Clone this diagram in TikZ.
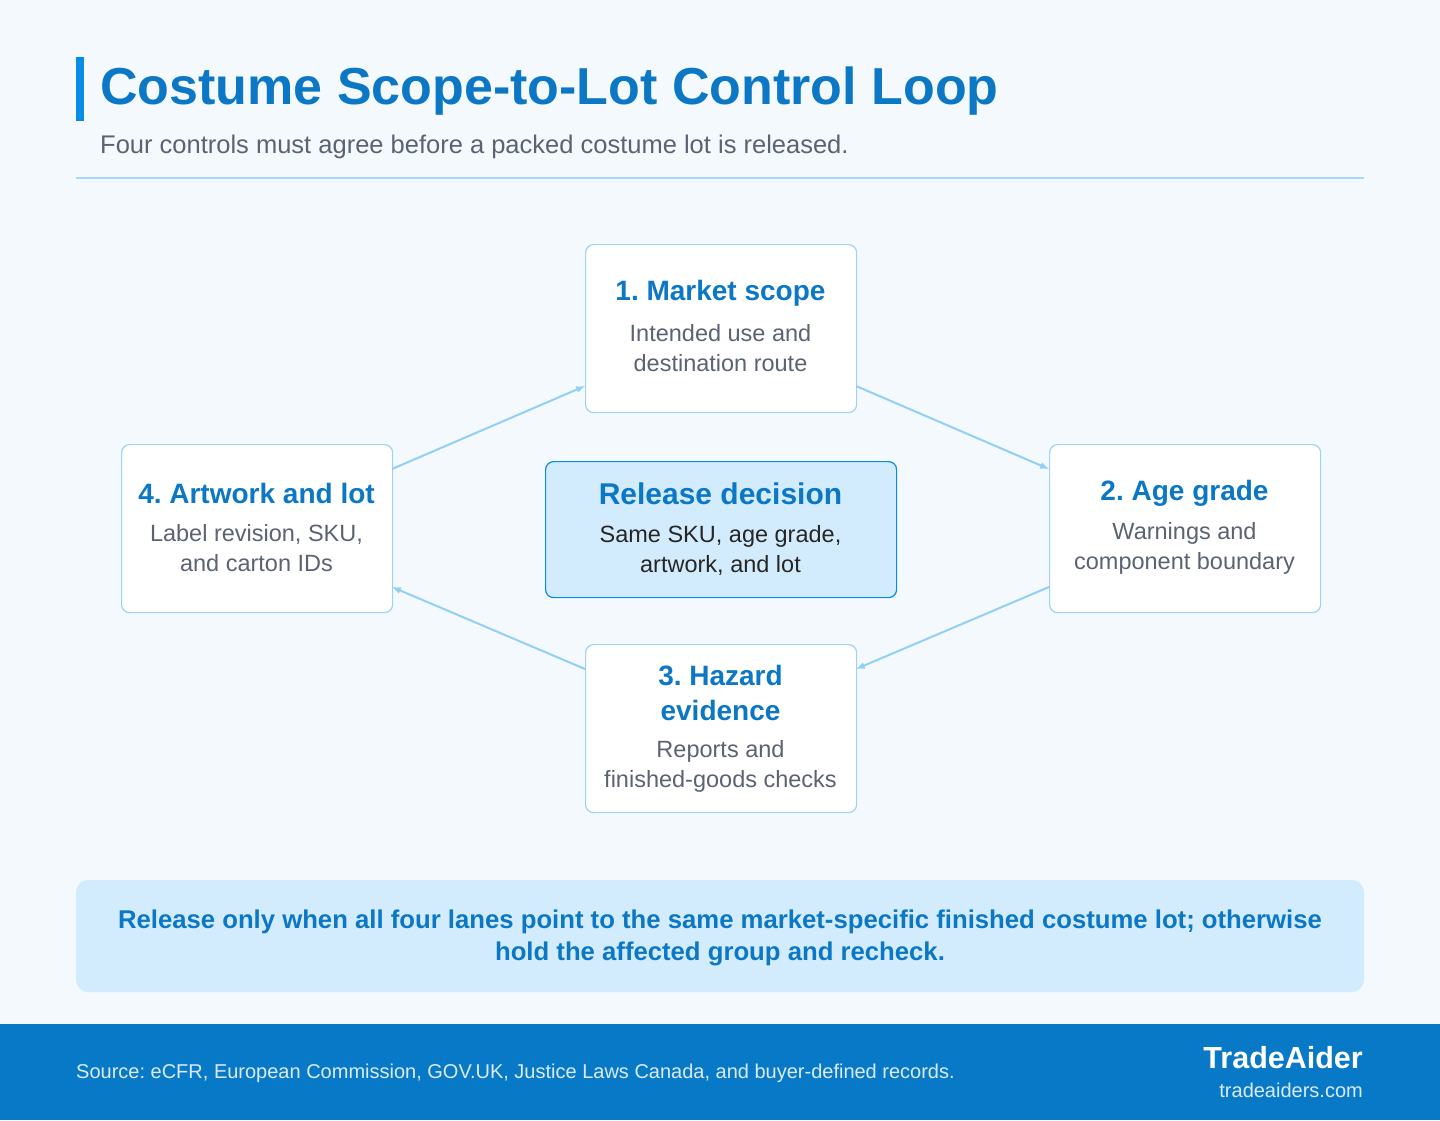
\documentclass[tikz,border=0pt]{standalone}
\usepackage{fontspec}
\setmainfont{Liberation Sans}
\frenchspacing
\usetikzlibrary{positioning}
\definecolor{pagebg}{HTML}{F4F9FE}
\definecolor{titleblue}{HTML}{0B77C5}
\definecolor{accent}{HTML}{0A8CE6}
\definecolor{greytext}{HTML}{5B6372}
\definecolor{rulecol}{HTML}{A8D8F8}
\definecolor{boxline}{HTML}{9ED3F6}
\definecolor{arrowcol}{HTML}{92CFF5}
\definecolor{softfill}{HTML}{D3ECFD}
\definecolor{footblue}{HTML}{0879C7}
\begin{document}
\begin{tikzpicture}[x=1pt,y=-1pt,
  stepbox/.style={draw=boxline,fill=white,rounded corners=8pt,line width=1.2pt,
    minimum width=271pt,minimum height=168pt,anchor=north west},
  steptitle/.style={font=\bfseries\fontsize{28}{35}\selectfont,text=titleblue,align=center},
  stepbody/.style={font=\fontsize{23.5}{30}\selectfont,text=greytext,align=center},
  loop/.style={draw=arrowcol,line width=2pt,-latex}]
\useasboundingbox (0,0) rectangle (1440,1120);
\fill[pagebg] (0,0) rectangle (1440,1120);
% heading
\fill[accent] (76,57) rectangle (84,121);
\node[anchor=base west,inner sep=0,font=\bfseries\fontsize{52}{58}\selectfont,text=titleblue] (title) at (100,104) {Costume Scope-to-Lot Control Loop};
\node[anchor=base west,inner sep=0,font=\fontsize{25.5}{30}\selectfont,text=greytext] (subtitle) at (100,153) {Four controls must agree before a packed costume lot is released.};
\draw[rulecol,line width=1.2pt] (76,178) -- (1364,178);
% steps
\node[stepbox] (scope) at (585,244) {};
\node[stepbox] (age) at (1049,444) {};
\node[stepbox] (hazard) at (585,644) {};
\node[stepbox] (artwork) at (121,444) {};
\node[draw=accent,fill=softfill,rounded corners=8pt,line width=1.2pt,minimum width=351pt,minimum height=136pt,anchor=north west] (release) at (545,461) {};
\node[steptitle] at (720.5,293) {1. Market scope};
\node[stepbody] at (720.5,348) {Intended use and\\destination route};
\node[steptitle] at (1184.5,493) {2. Age grade};
\node[stepbody] at (1184.5,548) {Warnings and\\component boundary};
\node[steptitle] at (720.5,693) {3. Hazard\\evidence};
\node[stepbody] at (720.5,766) {Reports and\\finished-goods checks};
\node[steptitle] at (256.5,493) {4. Artwork and lot};
\node[stepbody] at (256.5,548) {Label revision, SKU,\\and carton IDs};
\node[steptitle,font=\bfseries\fontsize{30}{36}\selectfont] at (720.5,494) {Release decision};
\node[stepbody,text=black!85] at (720.5,550) {Same SKU, age grade,\\artwork, and lot};
% loop arrows
\coordinate (a1) at (392,469); \coordinate (b1) at (585,386);
\coordinate (a2) at (856,386); \coordinate (b2) at (1049,469);
\coordinate (a3) at (1049,587); \coordinate (b3) at (856,669);
\coordinate (a4) at (585,669); \coordinate (b4) at (392,587);
\draw[loop] (a1) -- (b1);
\draw[loop] (a2) -- (b2);
\draw[loop] (a3) -- (b3);
\draw[loop] (a4) -- (b4);
% note
\fill[softfill,rounded corners=12pt] (76,880) rectangle (1364,992);
\node[font=\bfseries\fontsize{25.7}{32}\selectfont,text=titleblue,align=center] (note) at (720,938) {Release only when all four lanes point to the same market-specific finished costume lot; otherwise\\hold the affected group and recheck.};
% footer
\fill[footblue] (0,1024) rectangle (1440,1120);
\node[anchor=base west,inner sep=0,font=\fontsize{20}{24}\selectfont,text=white!85!footblue] (source) at (76,1078) {Source: eCFR, European Commission, GOV.UK, Justice Laws Canada, and buyer-defined records.};
\node[anchor=base east,inner sep=0,font=\bfseries\fontsize{30.5}{34}\selectfont,text=white] (brand) at (1363,1068) {TradeAider};
\node[anchor=base east,inner sep=0,font=\fontsize{20}{24}\selectfont,text=white!85!footblue] (site) at (1363,1097) {tradeaiders.com};
\end{tikzpicture}
\end{document}
